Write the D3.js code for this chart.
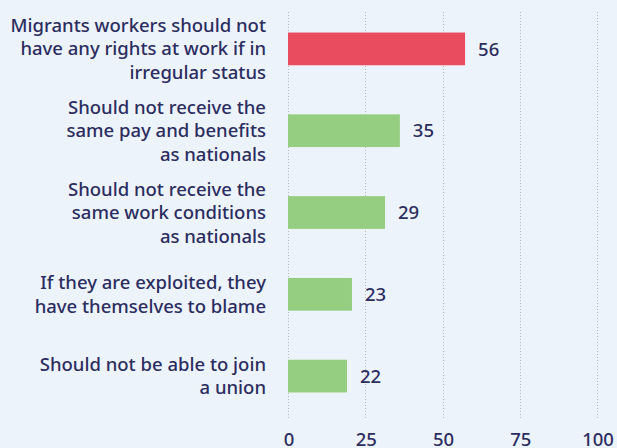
<!DOCTYPE html>
<html>
<head>
<meta charset="utf-8">
<script src="https://cdn.jsdelivr.net/npm/d3@7"></script>
<style>
    html, body { margin: 0; padding: 0; background: #edf3fb; }
    svg { display: block; font-family: "Noto Sans", "Open Sans", sans-serif; }
    .cat-label, .val-label, .tick-label { fill: #2b2d5f; font-size: 18.5px; font-weight: 500; }
</style>
</head>
<body>
<div id="chart"></div>
<script>

// Category labels (line-broken as in the picture)
let categories = [
    ["Migrants workers should not", "have any rights at work if in", "irregular status"],
    ["Should not receive the", "same pay and benefits", "as nationals"],
    ["Should not receive the", "same work conditions", "as nationals"],
    ["If they are exploited, they", "have themselves to blame"],
    ["Should not be able to join", "a union"]
];

// Printed values, and bar lengths
let labels = [56, 35, 29, 23, 22];
let values = [57.3, 36.2, 31.4, 20.7, 19.1];
let highlight = [true, false, false, false, false];

let tickValues = [0, 25, 50, 75, 100];

let width = 617, height = 448;

let svg = d3.select("#chart").append("svg")
    .attr("width", width)
    .attr("height", height);

let data = categories.map((c, i) => ({lines: c, value: values[i], label: labels[i], hl: highlight[i]}));

// Scales
let x = d3.scaleLinear().domain([0, 100]).range([288, 597]);
let y = d3.scaleBand()
    .domain(d3.range(data.length))
    .range([8, 417])
    .paddingInner(0.6)
    .paddingOuter(0.3);

// Dotted gridlines
svg.append("g")
    .selectAll("line")
    .data(tickValues)
    .enter().append("line")
    .attr("x1", d => Math.round(x(d)) + 0.5)
    .attr("x2", d => Math.round(x(d)) + 0.5)
    .attr("y1", 12)
    .attr("y2", 418)
    .attr("stroke", "#b5b9c0")
    .attr("stroke-width", 1)
    .attr("stroke-dasharray", "1,2");

// Tick labels
svg.append("g")
    .selectAll("text")
    .data(tickValues)
    .enter().append("text")
    .attr("class", "tick-label")
    .attr("x", d => x(d) + 1)
    .attr("y", 446)
    .attr("text-anchor", "middle")
    .text(d => d);

// Bars
svg.append("g")
    .selectAll("rect")
    .data(data)
    .enter().append("rect")
    .attr("x", x(0))
    .attr("y", (d, i) => y(i))
    .attr("width", d => x(d.value) - x(0))
    .attr("height", y.bandwidth())
    .attr("fill", d => d.hl ? "#e94c5f" : "#95cd81");

// Value labels
svg.append("g")
    .selectAll("text")
    .data(data)
    .enter().append("text")
    .attr("class", "val-label")
    .attr("x", d => x(d.value) + 13)
    .attr("y", (d, i) => y(i) + y.bandwidth() / 2)
    .attr("dy", "0.36em")
    .text(d => d.label);

// Category labels
let lineH = 23.5;
let cats = svg.append("g")
    .selectAll("text")
    .data(data)
    .enter().append("text")
    .attr("class", "cat-label")
    .attr("text-anchor", "end")
    .attr("y", (d, i) => y(i) + y.bandwidth() / 2);

cats.selectAll("tspan")
    .data(d => d.lines.map((l, j) => ({text: l, j: j, n: d.lines.length})))
    .enter().append("tspan")
    .attr("x", 266)
    .attr("dy", d => d.j === 0 ? ((-(d.n - 1) / 2) * lineH + 6.5) : lineH)
    .text(d => d.text);

</script>
</body>
</html>
